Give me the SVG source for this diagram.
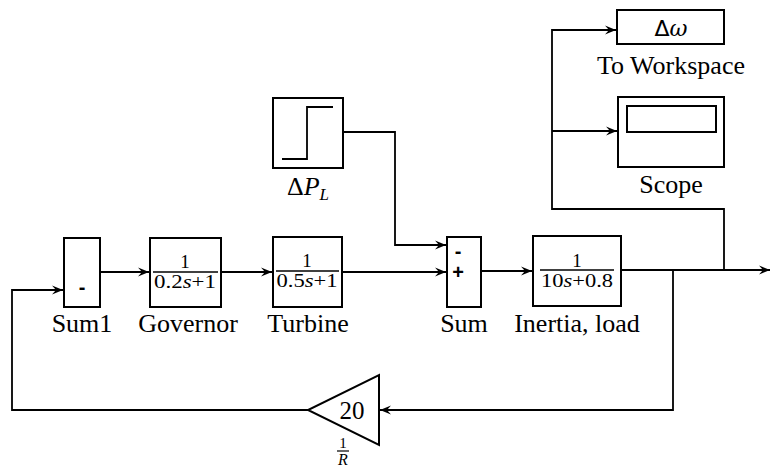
<svg xmlns="http://www.w3.org/2000/svg" width="773" height="471" viewBox="0 0 773 471">
<style>
.blk{fill:#fff;stroke:#000;stroke-width:2}
.ln{fill:none;stroke:#000;stroke-width:1.8}
.lbl{font-family:'Liberation Serif','Times New Roman','DejaVu Serif',serif;font-size:26px;fill:#000;text-anchor:middle}
.frac{font-family:'Liberation Serif','Times New Roman','DejaVu Serif',serif;font-size:19px;fill:#000;text-anchor:middle}
.it{font-style:italic}
.sign{font-family:'Liberation Sans','DejaVu Sans',sans-serif;font-size:20px;fill:#000;text-anchor:middle;font-weight:bold}
</style>
<defs>
<marker id="ah" viewBox="0 0 12 10" refX="11" refY="5" markerWidth="12" markerHeight="10" markerUnits="userSpaceOnUse" orient="auto">
<path d="M0,0.5 L11,5 L0,9.5 L4,5 Z" fill="#000"/>
</marker>
</defs>
<g id="connectors">
<path class="ln" d="M100,272 H149" marker-end="url(#ah)"/>
<path class="ln" d="M221,272 H272" marker-end="url(#ah)"/>
<path class="ln" d="M342,272 H446" marker-end="url(#ah)"/>
<path class="ln" d="M343,132 H395 V245 H446" marker-end="url(#ah)"/>
<path class="ln" d="M481,271 H532" marker-end="url(#ah)"/>
<path class="ln" d="M621,270 H770" marker-end="url(#ah)"/>
<path class="ln" d="M724,270 V209 H552 V30 H616" marker-end="url(#ah)"/>
<path class="ln" d="M552,131 H617" marker-end="url(#ah)"/>
<path class="ln" d="M673,270 V410 H380" marker-end="url(#ah)"/>
<path class="ln" d="M308,410 H12 V290 H63" marker-end="url(#ah)"/>
</g>
<g id="sum1">
<rect class="blk" x="64" y="238" width="36" height="69"/>
<text class="sign" x="82" y="294">-</text>
<text class="lbl" x="82" y="332">Sum1</text>
</g>
<g id="governor">
<rect class="blk" x="150" y="238" width="71" height="69"/>
<text class="frac" x="185" y="268">1</text>
<line x1="153" y1="272" x2="218" y2="272" stroke="#000" stroke-width="1.3"/>
<text class="frac" x="185" y="288" textLength="62" lengthAdjust="spacingAndGlyphs">0.2<tspan class="it">s</tspan>+1</text>
<text class="lbl" x="188" y="332">Governor</text>
</g>
<g id="turbine">
<rect class="blk" x="273" y="237" width="69" height="70"/>
<text class="frac" x="307" y="267">1</text>
<line x1="276" y1="271" x2="339" y2="271" stroke="#000" stroke-width="1.3"/>
<text class="frac" x="307" y="287" textLength="61" lengthAdjust="spacingAndGlyphs">0.5<tspan class="it">s</tspan>+1</text>
<text class="lbl" x="308" y="332">Turbine</text>
</g>
<g id="step">
<rect class="blk" x="273" y="98" width="70" height="70"/>
<path class="ln" d="M282,159 H307 V107 H333"/>
<text class="lbl" x="308" y="195">Δ<tspan class="it">P</tspan><tspan class="it" font-size="17" dy="5">L</tspan></text>
</g>
<g id="sum">
<rect class="blk" x="447" y="237" width="34" height="70"/>
<text class="sign" x="458" y="258">-</text>
<text class="sign" x="458" y="279">+</text>
<text class="lbl" x="464" y="332">Sum</text>
</g>
<g id="inertia">
<rect class="blk" x="533" y="236" width="88" height="70"/>
<text class="frac" x="577" y="267">1</text>
<line x1="540" y1="270" x2="614" y2="270" stroke="#000" stroke-width="1.3"/>
<text class="frac" x="577" y="287" textLength="72" lengthAdjust="spacingAndGlyphs">10<tspan class="it">s</tspan>+0.8</text>
<text class="lbl" x="577" y="332">Inertia, load</text>
</g>
<g id="toworkspace">
<rect class="blk" x="617" y="10" width="107" height="34"/>
<text x="671" y="36" font-family="'DejaVu Sans',sans-serif" font-size="22" text-anchor="middle">Δ<tspan font-family="'DejaVu Serif',serif" font-style="italic">ω</tspan></text>
<text class="lbl" x="671" y="74">To Workspace</text>
</g>
<g id="scope">
<rect class="blk" x="618" y="97" width="106" height="70"/>
<rect class="blk" x="627" y="106" width="89" height="26"/>
<text class="lbl" x="671" y="193">Scope</text>
</g>
<g id="gain">
<path class="blk" d="M379,375 V445 L308,410 Z"/>
<text x="352" y="419" font-family="'Liberation Serif','DejaVu Serif',serif" font-size="25" text-anchor="middle">20</text>
<text x="343" y="448" font-family="'Liberation Serif','DejaVu Serif',serif" font-size="15" text-anchor="middle">1</text>
<line x1="337" y1="451" x2="349" y2="451" stroke="#000" stroke-width="1.2"/>
<text x="343" y="465" font-family="'Liberation Serif','DejaVu Serif',serif" font-size="16" font-style="italic" text-anchor="middle">R</text>
</g>
</svg>
